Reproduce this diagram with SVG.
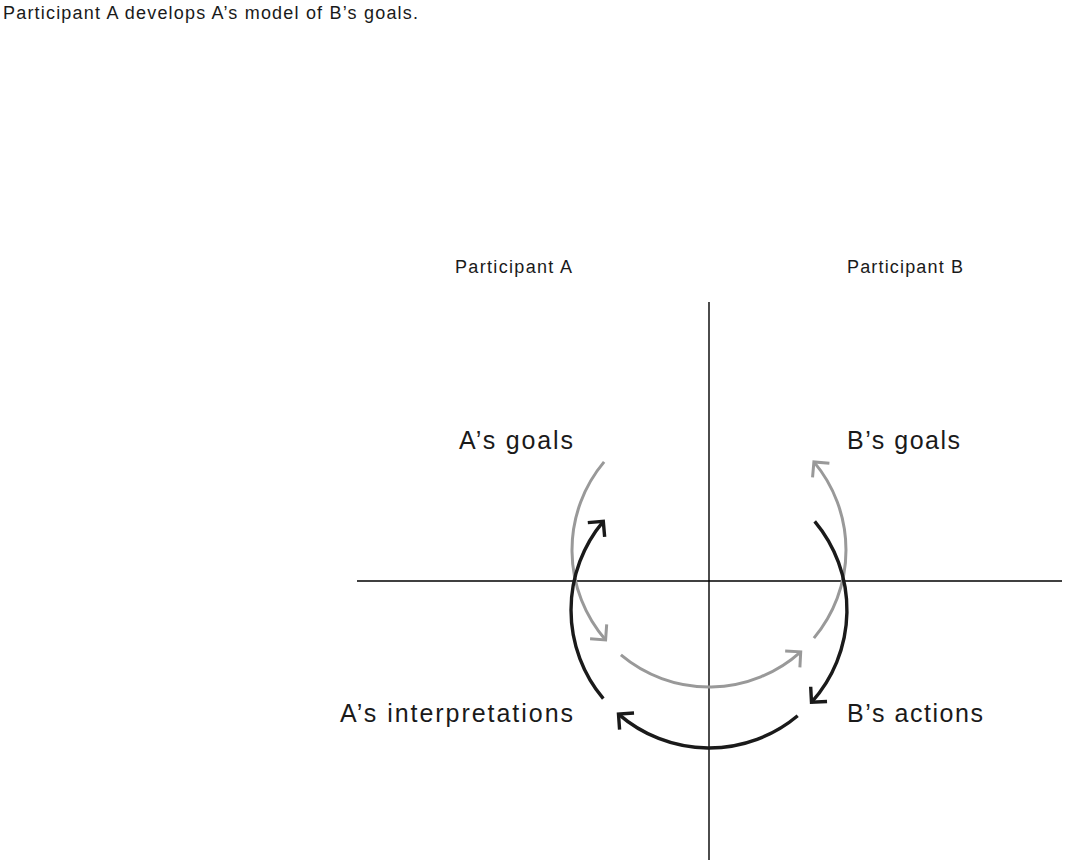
<svg xmlns="http://www.w3.org/2000/svg" width="1072" height="867" viewBox="0 0 1072 867">
  <style>
    .t { font-family: "Liberation Sans", Arial, sans-serif; fill: #1a1a1a; }
    .small { font-size: 18px; }
    .big { font-size: 25px; }
    .axis { stroke: #000000; stroke-width: 1.4; fill: none; }
    .gray { stroke: #999999; stroke-width: 3; fill: none; }
    .black { stroke: #1a1a1a; stroke-width: 3.4; fill: none; }
  </style>
  <defs>
    <marker id="ag" markerUnits="userSpaceOnUse" viewBox="-20 -20 40 40" markerWidth="40" markerHeight="40" refX="0" refY="0" orient="auto" overflow="visible">
      <path d="M-11,-11 L0,0 L-11,11" fill="none" stroke="#999999" stroke-width="3" stroke-linejoin="miter"/>
    </marker>
    <marker id="ab" markerUnits="userSpaceOnUse" viewBox="-20 -20 40 40" markerWidth="40" markerHeight="40" refX="0" refY="0" orient="auto" overflow="visible">
      <path d="M-11,-11 L0,0 L-11,11" fill="none" stroke="#1a1a1a" stroke-width="3.4" stroke-linejoin="miter"/>
    </marker>
  </defs>
  <rect width="1072" height="867" fill="#ffffff"/>

  <text id="title" class="t small" x="3" y="19" textLength="415" lengthAdjust="spacing">Participant A develops A’s model of B’s goals.</text>

  <g id="axes">
    <line class="axis" x1="709" y1="302" x2="709" y2="860"/>
    <line class="axis" x1="357" y1="581" x2="1062" y2="581"/>
  </g>

  <g id="participant-a"><text class="t small" x="455" y="273" textLength="117" lengthAdjust="spacing">Participant A</text></g>
  <g id="participant-b"><text class="t small" x="847" y="273" textLength="116" lengthAdjust="spacing">Participant B</text></g>

  <g id="a-goals"><text class="t big" x="459" y="449" textLength="114" lengthAdjust="spacing">A’s goals</text></g>
  <g id="b-goals"><text class="t big" x="847" y="449" textLength="113" lengthAdjust="spacing">B’s goals</text></g>
  <g id="a-interpretations"><text class="t big" x="340" y="722" textLength="233" lengthAdjust="spacing">A’s interpretations</text></g>
  <g id="b-actions"><text class="t big" x="847" y="722" textLength="136" lengthAdjust="spacing">B’s actions</text></g>

  <g id="connectors">
    <path class="gray" d="M604.1,461.9 A137,137 0 0 0 605.6,639.9" marker-end="url(#ag)"/>
    <path class="gray" d="M620.9,654.9 A137,137 0 0 0 800.7,651.8" marker-end="url(#ag)"/>
    <path class="gray" d="M813.9,638.1 A137,137 0 0 0 813.9,461.9" marker-end="url(#ag)"/>
    <path class="black" d="M603.3,698.7 A138,138 0 0 1 603.3,521.3" marker-end="url(#ab)"/>
    <path class="black" d="M814.7,521.3 A138,138 0 0 1 811.5,702.3" marker-end="url(#ab)"/>
    <path class="black" d="M797.7,715.7 A138,138 0 0 1 618.5,714.1" marker-end="url(#ab)"/>
  </g>
</svg>
